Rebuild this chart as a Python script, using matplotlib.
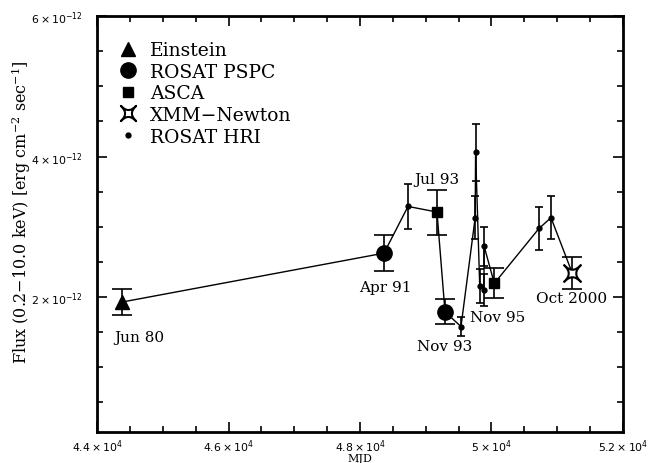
import matplotlib
matplotlib.use('Agg')
import matplotlib.pyplot as plt
import numpy as np
from matplotlib.path import Path
from matplotlib.lines import Line2D
from matplotlib.ticker import MultipleLocator, FixedLocator

# data (flux in erg/cm2/s)
einstein_mjd = [44385]
einstein_flux = [1.93e-12]
einstein_err = [0.19e-12]

pspc_mjd = [48365, 49293]
pspc_flux = [2.625e-12, 1.79e-12]
pspc_err = [0.26e-12, 0.18e-12]

asca_mjd = [49171, 50043]
asca_flux = [3.21e-12, 2.195e-12]
asca_err = [0.32e-12, 0.215e-12]

xmm_mjd = [51229]
xmm_flux = [2.34e-12]
xmm_err = [0.23e-12]

hri_mjd = [48730, 49536, 49752, 49758, 49821, 49884, 49889, 50722, 50905]
hri_flux = [3.29e-12, 1.58e-12, 3.13e-12, 4.06e-12, 2.16e-12, 2.10e-12, 2.72e-12, 2.976e-12, 3.13e-12]
hri_err = [0.32e-12, 0.14e-12, 0.31e-12, 0.41e-12, 0.24e-12, 0.23e-12, 0.28e-12, 0.30e-12, 0.31e-12]

labels = ['Jun 80', 'Apr 91', 'Jul 93', 'Nov 93', 'Nov 95', 'Oct 2000']
label_mjd = [44639, 48380, 49171, 49293, 50099, 51224]
label_flux = [1.43e-12, 2.14e-12, 3.68e-12, 1.30e-12, 1.72e-12, 1.99e-12]

xticks = [44000, 46000, 48000, 50000, 52000]
xticklabels = [r'$4.4\times10^{4}$', r'$4.6\times10^{4}$', r'$4.8\times10^{4}$',
               r'$5\times10^{4}$', r'$5.2\times10^{4}$']
yticks = [2e-12, 4e-12, 6e-12]
yticklabels = [r'$2\times10^{-12}$', r'$4\times10^{-12}$', r'$6\times10^{-12}$']

plt.rcParams['font.family'] = ['DejaVu Serif']
plt.rcParams['mathtext.fontset'] = 'dejavuserif'

# concave four point star for XMM
verts = [(-1, -1), (0, 0.1), (1, -1), (-0.1, 0), (1, 1), (0, -0.1), (-1, 1), (0.1, 0), (-1, -1), (-1, -1)]
codes = [Path.MOVETO, Path.CURVE3, Path.CURVE3, Path.CURVE3, Path.CURVE3,
         Path.CURVE3, Path.CURVE3, Path.CURVE3, Path.CURVE3, Path.CLOSEPOLY]
star = Path(verts, codes)

fig = plt.figure(figsize=(6.52, 4.64), dpi=100)
ax = fig.add_axes([0.1488, 0.0668, 0.8067, 0.8966])

# connecting line through all points in time order
all_mjd = np.array(einstein_mjd + pspc_mjd + asca_mjd + xmm_mjd + hri_mjd)
all_flux = np.array(einstein_flux + pspc_flux + asca_flux + xmm_flux + hri_flux)
order = np.argsort(all_mjd, kind='stable')
ax.plot(all_mjd[order], all_flux[order], color='k', lw=1.0, zorder=2)

big = dict(fmt='none', ecolor='k', elinewidth=1.2, capsize=7.2, capthick=1.2, zorder=3)
ax.errorbar(einstein_mjd, einstein_flux, yerr=einstein_err, **big)
ax.errorbar(pspc_mjd, pspc_flux, yerr=pspc_err, **big)
ax.errorbar(asca_mjd, asca_flux, yerr=asca_err, **big)
ax.errorbar(xmm_mjd, xmm_flux, yerr=xmm_err, **big)
ax.errorbar(hri_mjd, hri_flux, yerr=hri_err, fmt='none', ecolor='k', elinewidth=1.2,
            capsize=2.8, capthick=1.2, zorder=3)

ax.plot(einstein_mjd, einstein_flux, '^', color='k', ms=10, ls='none', zorder=4)
ax.plot(pspc_mjd, pspc_flux, 'o', color='k', ms=11, ls='none', zorder=4)
ax.plot(asca_mjd, asca_flux, 's', color='k', ms=7.5, ls='none', zorder=4)
ax.plot(xmm_mjd, xmm_flux, marker=star, color='k', mfc='white', mew=1.5, ms=12, ls='none', zorder=4)
ax.plot(hri_mjd, hri_flux, 'o', color='k', ms=3.5, ls='none', zorder=4)

for t, x, y in zip(labels, label_mjd, label_flux):
    ax.text(x, y, t, ha='center', va='center', fontsize=11)

handles = [
    Line2D([], [], marker='^', color='k', ls='none', ms=10),
    Line2D([], [], marker='o', color='k', ls='none', ms=11),
    Line2D([], [], marker='s', color='k', ls='none', ms=7.5),
    Line2D([], [], marker=star, color='k', mfc='white', mew=1.5, ls='none', ms=11),
    Line2D([], [], marker='o', color='k', ls='none', ms=3.5),
]
ax.legend(handles, ['Einstein', 'ROSAT PSPC', 'ASCA', 'XMM\u2212Newton', 'ROSAT HRI'],
          loc='upper left', bbox_to_anchor=(0.027, 0.957), frameon=False, fontsize=13.5,
          handlelength=1.0, handletextpad=0.67, labelspacing=0.19, borderaxespad=0)

ax.set_xlim(44000, 52000)
ax.set_ylim(0.08e-12, 6e-12)
ax.xaxis.set_major_locator(FixedLocator(xticks))
ax.set_xticklabels(xticklabels)
ax.xaxis.set_minor_locator(MultipleLocator(500))
ax.yaxis.set_major_locator(FixedLocator(yticks))
ax.set_yticklabels(yticklabels)
ax.yaxis.set_minor_locator(MultipleLocator(0.5e-12))
ax.tick_params(which='both', direction='in', top=True, right=True, width=1.2, labelsize=7.8)
ax.tick_params(which='major', length=7)
ax.tick_params(axis='y', which='major', pad=10.5)
ax.tick_params(axis='x', which='major', pad=4)
ax.tick_params(which='minor', length=4)
for lab in ax.get_xticklabels() + ax.get_yticklabels():
    lab.set_math_fontfamily('dejavusans')
for s in ax.spines.values():
    s.set_linewidth(2)

ax.set_xlabel('MJD', fontsize=8)
ax.xaxis.set_label_coords(0.5, -0.05)
ax.set_ylabel(r'Flux (0.2$-$10.0 keV) [erg cm$^{-2}$ sec$^{-1}$]', fontsize=11.5)
ax.yaxis.set_label_coords(-0.121, 0.53)

fig.savefig('out.png', dpi=100)
